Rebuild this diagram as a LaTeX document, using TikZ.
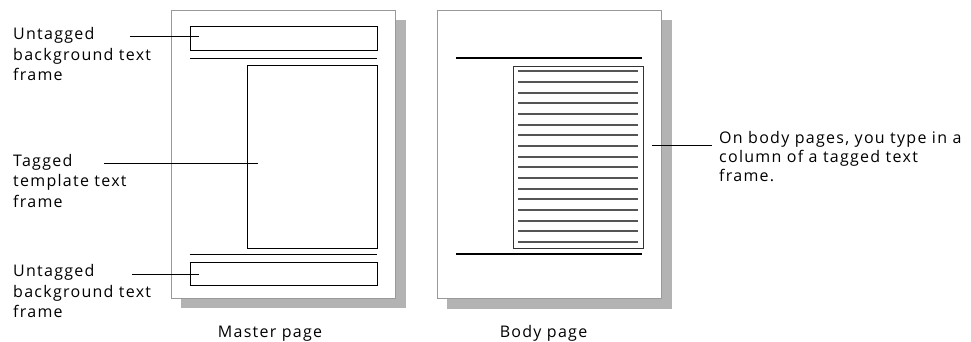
\documentclass[tikz,border=0pt]{standalone}
\usepackage{fontspec}
\setmainfont{Open Sans}[LetterSpace=8]
\begin{document}
\begin{tikzpicture}[x=1pt,y=-1pt,
  lbl/.style={anchor=base west,inner sep=0pt,align=left,font=\fontsize{16}{20.5}\selectfont},
  rlbl/.style={anchor=base west,inner sep=0pt,align=left,font=\fontsize{16}{19}\selectfont},
  captext/.style={anchor=base,inner sep=0pt,font=\fontsize{16}{19}\selectfont},
  pageshadow/.style={fill=shadowgray,draw=none},
  pagebox/.style={fill=white,draw=pagegray,line width=1pt},
  frmbox/.style={draw=black,line width=0.9pt,anchor=north west,inner sep=0pt},
  rulel/.style={draw=black,line width=0.9pt},
  thickrule/.style={draw=black,line width=2.6pt},
  textline/.style={draw=linegray,line width=2pt},
  leader/.style={draw=black,line width=0.9pt}]
\definecolor{shadowgray}{HTML}{B3B3B3}
\definecolor{pagegray}{HTML}{999999}
\definecolor{linegray}{HTML}{555555}
\useasboundingbox (0,0) rectangle (971,341);
% Master page
\fill[pageshadow] (181,20) rectangle (406,308);
\draw[pagebox] (171,10) rectangle (395,298);
\node[frmbox,minimum width=187pt,minimum height=24pt] (topframe) at (190,26) {};
\draw[rulel] (190,58) -- (377,58);
\node[frmbox,minimum width=130pt,minimum height=183pt] (tagframe) at (247,65) {};
\draw[rulel] (190,254) -- (377,254);
\node[frmbox,minimum width=187pt,minimum height=23pt] (botframe) at (190,262) {};
% Body page
\fill[pageshadow] (447,20) rectangle (672,309);
\draw[pagebox] (437,10) rectangle (661,298);
\draw[thickrule] (456,58) -- (642,58);
\draw[thickrule] (456,254) -- (642,254);
\node[draw=black!80,line width=1.2pt,minimum width=130pt,minimum height=182.5pt,anchor=north west,inner sep=0pt] (colframe) at (513,65.5) {};
\foreach \i in {0,...,16} {
  \draw[textline] (518,71.3+10.67*\i) -- (638,71.3+10.67*\i);
}
% Labels (anchored at the baseline of their last line)
\node[lbl] (l1) at (13,80.5) {Untagged\\background text\\frame};
\node[lbl] (l2) at (13,207) {Tagged\\template text\\frame};
\node[lbl] (l3) at (13,317.5) {Untagged\\background text\\frame};
\node[rlbl] (r1) at (719,181) {On body pages, you type in a\\column of a tagged text\\frame.};
\node[captext] (c1) at (270,337) {Master page};
\node[captext] (c2) at (543.5,337) {Body page};
% Leaders
\coordinate (a1) at (130,36);
\coordinate (a2) at (104,163);
\coordinate (a3) at (132,274);
\coordinate (a4) at (712,145);
\coordinate (b1) at (199,36);
\coordinate (b2) at (258,163);
\coordinate (b3) at (199,274);
\coordinate (b4) at (652,145);
\draw[leader] (a1) -- (b1);
\draw[leader] (a2) -- (b2);
\draw[leader] (a3) -- (b3);
\draw[leader] (a4) -- (b4);
\end{tikzpicture}
\end{document}
